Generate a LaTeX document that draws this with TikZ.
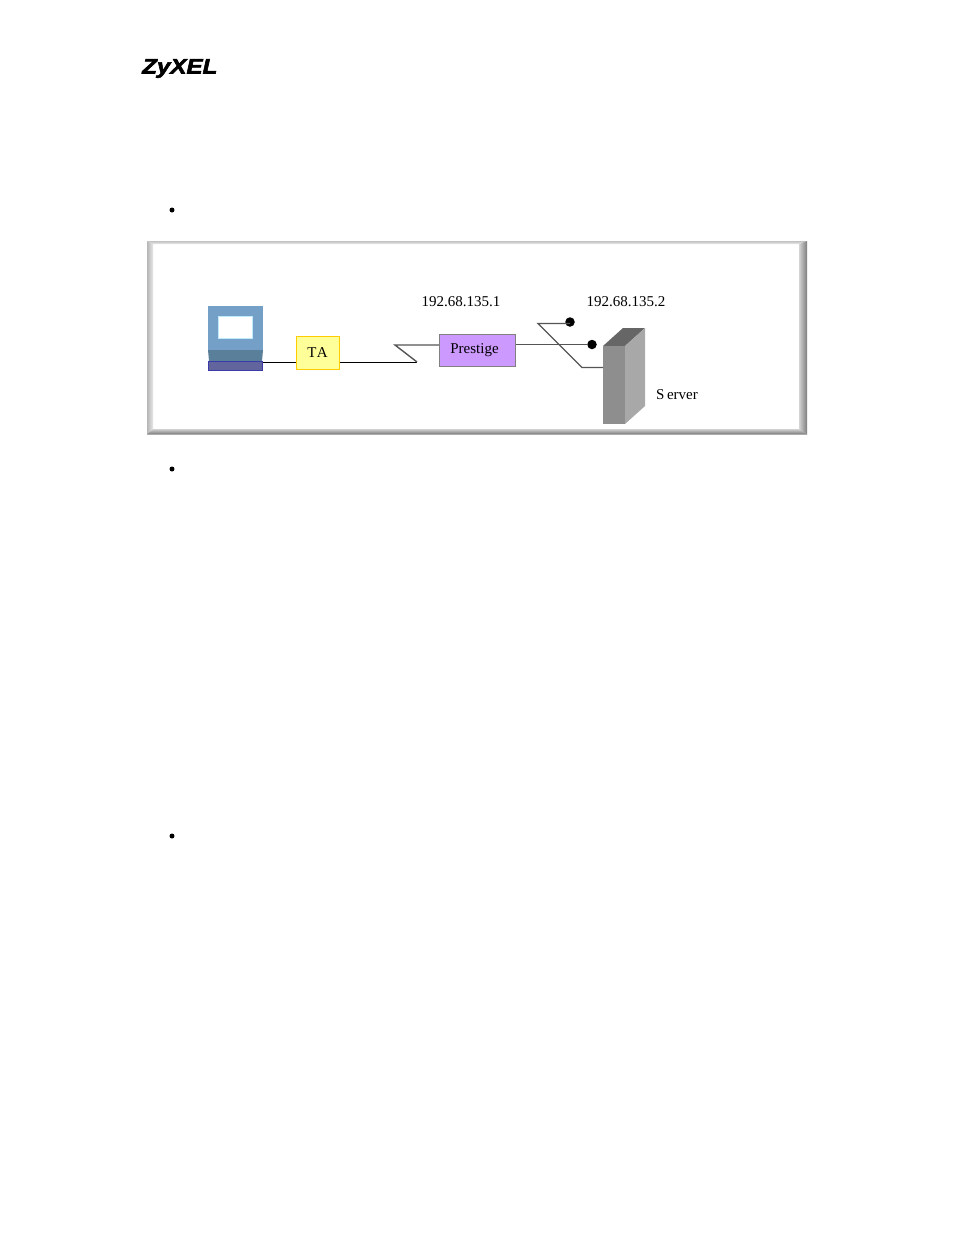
\documentclass[tikz,border=0pt]{standalone}
\usepackage{fontspec}
\setmainfont{Liberation Serif}
\newfontfamily\logofont[FakeBold=2.5]{Liberation Sans}
\usetikzlibrary{positioning}
\definecolor{screenblue}{HTML}{74A0C8}
\definecolor{basesteel}{HTML}{5A7F9A}
\definecolor{kbfill}{HTML}{62649E}
\definecolor{kbline}{HTML}{3A3AA8}
\definecolor{taf}{HTML}{FFFF99}
\definecolor{tal}{HTML}{FFCC00}
\definecolor{prf}{HTML}{CC99FF}
\definecolor{wire}{HTML}{555555}
\definecolor{srvfront}{HTML}{8E8E8E}
\definecolor{srvside}{HTML}{A8A8A8}
\definecolor{srvtop}{HTML}{666666}
\pgfdeclarehorizontalshading{bevleft}{100bp}{color(0bp)=(black!38); color(100bp)=(white)}
\pgfdeclarehorizontalshading{bevright}{100bp}{color(0bp)=(white); color(100bp)=(black!68)}
\pgfdeclareverticalshading{bevtop}{100bp}{color(0bp)=(white); color(100bp)=(black!32)}
\pgfdeclareverticalshading{bevbottom}{100bp}{color(0bp)=(black!72); color(100bp)=(white)}
\tikzset{
  x=1pt,y=-1pt,
  lbl/.style={font=\fontsize{15}{15}\selectfont,inner sep=0pt,text=black},
  box/.style={draw,line width=1.2pt,inner sep=0pt,font=\fontsize{15}{15}\selectfont},
  wireline/.style={draw=black,line width=1pt},
  greyline/.style={draw=wire,line width=1.4pt},
  blob/.style={circle,fill=black,inner sep=0pt,minimum size=9.5pt},
  bullet/.style={circle,fill=black,inner sep=0pt,minimum size=5pt},
}
\begin{document}
\begin{tikzpicture}
\useasboundingbox (0,0) rectangle (954,1235);
\fill[white] (0,0) rectangle (954,1235);
% logo
\node[font=\logofont\bfseries\itshape\fontsize{21}{21}\selectfont,inner sep=0pt,anchor=base west,xscale=1.15,transform shape] (logo) at (142,73.5) {ZyXEL};
% bullets
\node[bullet] (b1) at (172,210) {};
\node[bullet] (b2) at (172,469) {};
\node[bullet] (b3) at (172,836) {};
% frame with bevel
\shade[shading=bevleft] (147,241) -- (153,244) -- (153,429) -- (147,434.5) -- cycle;
\shade[shading=bevtop] (147,241) -- (807,241) -- (799,244) -- (153,244) -- cycle;
\shade[shading=bevright] (807,241) -- (799,244) -- (799,429) -- (807,434.5) -- cycle;
\shade[shading=bevbottom] (147,434.5) -- (153,429) -- (799,429) -- (807,434.5) -- cycle;
% computer
\fill[screenblue] (208,305.5) rectangle (263,350);
\node[draw=cyan!25,fill=white,line width=.7pt,minimum width=34pt,minimum height=22pt,inner sep=0pt] (screen) at (235.5,327) {};
\fill[basesteel] (208,350) -- (263,350) -- (262,361) -- (209,361) -- cycle;
\node[draw=kbline,fill=kbfill,line width=.9pt,minimum width=54pt,minimum height=9.5pt,inner sep=0pt] (kb) at (235.5,366) {};
% boxes
\node[box,draw=tal,fill=taf,minimum width=43pt,minimum height=33pt] (ta) at (318,353) {\raisebox{1.5pt}{\kern-1pt T\kern.5pt A}};
\node[box,draw=gray,fill=prf,minimum width=76pt,minimum height=32.5pt] (pr) at (477.5,350.5) {\raisebox{1pt}{\kern-6pt Prestige}};
% server
\fill[srvtop] (603,346) -- (623,328) -- (645,328) -- (625,346) -- cycle;
\fill[srvside] (625,346) -- (645,328) -- (645,406) -- (625,424) -- cycle;
\node[fill=srvfront,minimum width=22pt,minimum height=78pt,inner sep=0pt] (srv) at (614,385) {};
% coordinates
\coordinate (z1) at (417,362);
\coordinate (z2) at (395,345);
\coordinate (k0) at (570,323.5);
\coordinate (k1) at (538,323.5);
\coordinate (k2) at (582,367.5);
\coordinate (kend) at (603,367.5);
\node[blob] (d1) at (570,322) {};
\node[blob] (d2) at (592,344.5) {};
% connectors
\draw[wireline] (263,362) -- (ta.west |- 0,362);
\draw[wireline] (ta.east |- 0,362) -- (z1);
\draw[greyline] (z1) -- (z2) -- (pr.west |- z2);
\draw[greyline] (pr.east |- d2) -- (d2);
\draw[greyline] (k0) -- (k1) -- (k2) -- (kend);
% labels
\node[lbl] (ip1) at (461,301.5) {192.68.135.1};
\node[lbl] (ip2) at (626,301.5) {192.68.135.2};
\node[lbl] (server) at (677,394.5) {S\,erver};
\end{tikzpicture}
\end{document}
